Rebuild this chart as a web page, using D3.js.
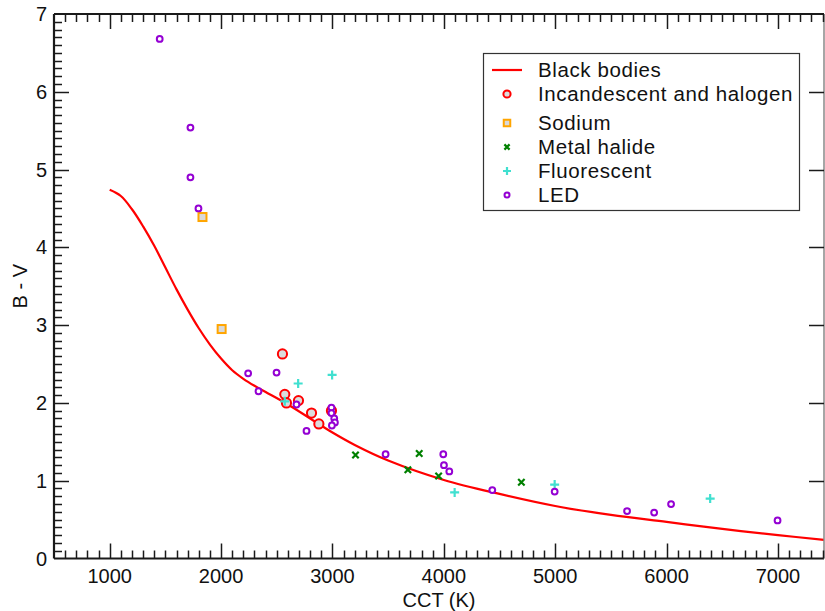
<!DOCTYPE html>
<html><head><meta charset="utf-8">
<script src="https://cdn.jsdelivr.net/npm/d3@7"></script>
<style>
html,body{margin:0;padding:0;background:#fff;}
svg{display:block;font-family:"Liberation Sans",Arial,sans-serif;}
</style></head>
<body><svg id="c" width="825" height="611"></svg>
<script>
// ---- data ----
const xTicks = [1000,2000,3000,4000,5000,6000,7000];
const yTicks = [0,1,2,3,4,5,6,7];
const blackBodyCCT = [1000,1100,1200,1300,1400,1500,1600,1700,1800,1900,2000,2100,2200,2300,2400,2600,2800,3000,3200,3500,4000,4500,5000,5500,6000,6500,7000,7413];
const blackBodyBV  = [4.74,4.66,4.49,4.27,4.02,3.74,3.46,3.20,2.96,2.75,2.57,2.42,2.31,2.22,2.14,1.98,1.80,1.62,1.46,1.26,1.01,0.83,0.675,0.56,0.47,0.38,0.30,0.24];
const incandescentCCT = [2551,2572,2587,2695,2812,2878,2991];
const incandescentBV  = [2.63,2.11,2.00,2.03,1.87,1.73,1.90];
const sodiumCCT = [1833,2005];
const sodiumBV  = [4.39,2.95];
const metalHalideCCT = [3207,3677,3779,3953,4696];
const metalHalideBV  = [1.33,1.14,1.35,1.06,0.98];
const fluorescentCCT = [2572,2692,2997,4097,4995,6391];
const fluorescentBV  = [2.02,2.25,2.36,0.85,0.95,0.77];
const ledCCT = [1449,1725,1725,1797,2243,2336,2498,2677,2767,2991,2991,3016,3022,2995,3477,3995,4001,4049,4435,4995,5645,5888,6040,6996];
const ledBV  = [6.68,5.54,4.90,4.50,2.38,2.15,2.39,1.98,1.64,1.94,1.87,1.80,1.75,1.71,1.34,1.34,1.20,1.12,0.88,0.86,0.61,0.59,0.70,0.49];
const legendLabels = ["Black bodies","Incandescent and halogen","Sodium","Metal halide","Fluorescent","LED"];

// ---- layout ----
const L=54, R=824, T=14, B=558.5;
const svg=d3.select("#c");
const x=d3.scaleLinear().domain([500,7413]).range([L,R]);
const y=d3.scaleLinear().domain([0,7]).range([B,T]);
const axisCol="#1a1a1a";
const zip=(a,b)=>a.map((v,i)=>[v,b[i]]);

// black-body curve
svg.append("path").datum(zip(blackBodyCCT,blackBodyBV))
  .attr("fill","none").attr("stroke","#ff0000").attr("stroke-width",2.2)
  .attr("d",d3.line().x(d=>x(d[0])).y(d=>y(d[1])).curve(d3.curveCatmullRom.alpha(0.5)));

// markers
function circ(g,cx,cy,r,stroke,fill){g.append("circle").attr("cx",cx).attr("cy",cy).attr("r",r).attr("fill",fill).attr("stroke",stroke).attr("stroke-width",2);}
function sq(g,cx,cy,s){g.append("rect").attr("x",cx-s/2).attr("y",cy-s/2).attr("width",s).attr("height",s).attr("fill","#d9d9d9").attr("stroke","#ffa500").attr("stroke-width",2);}
function cross(g,cx,cy,s){g.append("path").attr("d",`M${cx-s},${cy-s}L${cx+s},${cy+s}M${cx-s},${cy+s}L${cx+s},${cy-s}`).attr("stroke","#008000").attr("stroke-width",2.2).attr("fill","none");}
function plus(g,cx,cy,s){g.append("path").attr("d",`M${cx-s},${cy}L${cx+s},${cy}M${cx},${cy-s}L${cx},${cy+s}`).attr("stroke","#40e0d0").attr("stroke-width",2.2).attr("fill","none");}

const gp=svg.append("g");
zip(incandescentCCT,incandescentBV).forEach(d=>circ(gp,x(d[0]),y(d[1]),4.6,"#ff0000","#dcdcdc"));
zip(sodiumCCT,sodiumBV).forEach(d=>sq(gp,x(d[0]),y(d[1]),8));
zip(metalHalideCCT,metalHalideBV).forEach(d=>cross(gp,x(d[0]),y(d[1]),3.2));
zip(fluorescentCCT,fluorescentBV).forEach(d=>plus(gp,x(d[0]),y(d[1]),4.5));
zip(ledCCT,ledBV).forEach(d=>circ(gp,x(d[0]),y(d[1]),2.9,"#9400d3","#ffffff"));

// axes frame
const ga=svg.append("g").attr("stroke",axisCol);
ga.append("line").attr("x1",L).attr("x2",R).attr("y1",B).attr("y2",B).attr("stroke-width",2.2);
ga.append("line").attr("x1",L).attr("x2",R).attr("y1",T).attr("y2",T).attr("stroke-width",2.2);
ga.append("line").attr("x1",L).attr("x2",L).attr("y1",T).attr("y2",B).attr("stroke-width",2.2);
ga.append("line").attr("x1",R).attr("x2",R).attr("y1",T).attr("y2",B).attr("stroke-width",1.5).attr("stroke","#888");

// x ticks (minor every 100)
const xMinor=d3.range(600,7413,100);
xMinor.forEach(v=>{
  const major=v%1000===0, len=major?15:8, px=Math.round(x(v))+0.5;
  ga.append("line").attr("x1",px).attr("x2",px).attr("y1",B).attr("y2",B-len).attr("stroke-width",1.5);
  ga.append("line").attr("x1",px).attr("x2",px).attr("y1",T).attr("y2",T+len).attr("stroke-width",1.5);
});
// y ticks (minor every 0.1)
d3.range(1,70).forEach(i=>{
  const v=i/10, major=i%10===0, len=major?15:8, py=Math.round(y(v))+0.5;
  ga.append("line").attr("x1",L).attr("x2",L+len).attr("y1",py).attr("y2",py).attr("stroke-width",1.5);
  if(major) ga.append("line").attr("x1",R).attr("x2",R-len).attr("y1",py).attr("y2",py).attr("stroke-width",1.5);
});

// tick labels
svg.append("g").selectAll("text").data(xTicks).join("text")
  .attr("x",d=>x(d)).attr("y",583).attr("text-anchor","middle")
  .attr("font-size",20).attr("fill","#111").text(d=>d);
svg.append("g").selectAll("text").data(yTicks).join("text")
  .attr("x",47).attr("y",d=>y(d)+7).attr("text-anchor","end")
  .attr("font-size",20).attr("fill","#111").text(d=>d);

// axis titles
svg.append("text").attr("x",(L+R)/2).attr("y",607).attr("text-anchor","middle")
  .attr("font-size",20).attr("fill","#111").text("CCT (K)");
svg.append("text").attr("transform",`translate(27,${(T+B)/2}) rotate(-90)`).attr("text-anchor","middle")
  .attr("font-size",20).attr("fill","#111").text("B - V");

// legend
const lg=svg.append("g");
lg.append("rect").attr("x",483.5).attr("y",53.5).attr("width",316).attr("height",157)
  .attr("fill","#fff").attr("stroke","#333").attr("stroke-width",1.2);
const rowBase=[77,101,130,154,178,202];
const sx=507;
legendLabels.forEach((t,i)=>{
  lg.append("text").attr("x",538).attr("y",rowBase[i]).attr("font-size",20.5).attr("letter-spacing","0.6px").attr("fill","#111").text(t);
  const cy=rowBase[i]-7;
  if(i===0) lg.append("line").attr("x1",492).attr("x2",522).attr("y1",cy).attr("y2",cy).attr("stroke","#ff0000").attr("stroke-width",2.2);
  if(i===1) circ(lg,sx,cy,3.6,"#ff0000","#dcdcdc");
  if(i===2) sq(lg,sx,cy,6.5);
  if(i===3) cross(lg,sx,cy,2.6);
  if(i===4) plus(lg,sx,cy,4);
  if(i===5) circ(lg,sx,cy,2.5,"#9400d3","#ffffff");
});
</script></body></html>
